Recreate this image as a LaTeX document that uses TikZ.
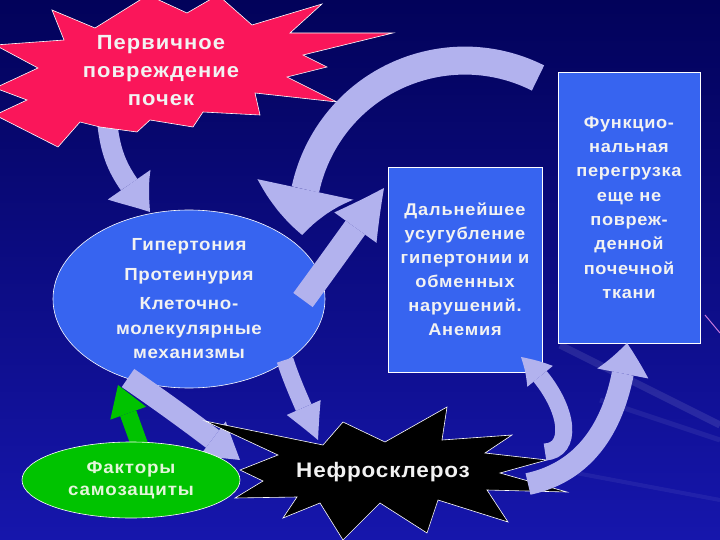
\documentclass[tikz,border=0pt]{standalone}
\usepackage{fontspec}
\setmainfont{Liberation Sans}
\usetikzlibrary{shapes.geometric,arrows.meta,bending}
\definecolor{bgtop}{RGB}{2,2,90}
\definecolor{bgbot}{RGB}{22,22,172}
\definecolor{starred}{RGB}{250,22,90}
\definecolor{boxblue}{RGB}{55,100,240}
\definecolor{arrowc}{RGB}{178,178,238}
\definecolor{greenc}{RGB}{0,195,0}
\definecolor{txt}{RGB}{242,242,242}
\definecolor{gtxt}{RGB}{228,245,218}
\definecolor{pinkline}{RGB}{200,120,220}
\newcommand{\txtfont}[3]{\fontsize{#1}{#2}\selectfont\bfseries\addfontfeature{FakeStretch=1.07,LetterSpace=#3}}
\begin{document}
\begin{tikzpicture}[x=1pt,y=-1pt,
  every node/.style={text=txt, align=center, inner sep=0pt},
  barr/.style n args={3}{draw=arrowc, line width=#1, -{Triangle[width=#2,length=#3,line width=0pt,bend]}},
  garr/.style n args={3}{draw=greenc, line width=#1, -{Triangle[width=#2,length=#3,line width=0pt,bend]}},
  boxnode/.style={draw=white, line width=0.6pt, fill=boxblue},
  outline/.style={draw=white, line width=0.6pt}]
\useasboundingbox (0,0) rectangle (720,540);
\clip (0,0) rectangle (720,540);
\fill[top color=bgtop, bottom color=bgbot] (0,0) rectangle (720,540);
% light streaks
\draw[white, opacity=0.10, line width=7pt] (560,345) -- (720,425);
\draw[white, opacity=0.07, line width=5pt] (600,400) -- (720,440);
\draw[white, opacity=0.06, line width=4pt] (560,470) -- (720,500);
\draw[pinkline, line width=1pt] (705,315) -- (720,333);

% arrow 1: star -> mechanisms
\coordinate (a1s) at (107,120);
\coordinate (a1e) at (150,212);
\draw[barr={20pt}{52pt}{38pt}] (a1s) .. controls (111,165) and (125,180) .. (a1e);

% red star
\draw[outline, fill=starred] (52,10) -- (64,40) -- (-5,45) -- (38,68) -- (-5,88) -- (27,100) -- (-5,115)
  -- (58,147) -- (80,122) -- (100,127) -- (137,132) -- (150,120) -- (193,127) -- (203,112)
  -- (260,115) -- (255,93) -- (337,102) -- (287,77) -- (327,67) -- (303,55) -- (393,33)
  -- (290,33) -- (322,4) -- (252,25) -- (218,-5) -- (187,13) -- (148,-5) -- (95,28) -- cycle;
\node[font=\txtfont{20.5}{28}{5}] (prim) at (161,71) {Первичное\\повреждение\\почек};

% big arc arrow: overload -> mechanisms
\coordinate (a2s) at (538,78);
\draw[barr={28pt}{98pt}{46pt}] (a2s) arc[start angle=-63.3, end angle=-184, radius=163];

% boxes
\node[boxnode, minimum width=142pt, minimum height=271pt, font=\txtfont{17}{24.3}{4}] (over) at (629,207.5)
  {Функцио-\\нальная\\перегрузка\\еще не\\повреж-\\денной\\почечной\\ткани};
\node[boxnode, minimum width=154pt, minimum height=205pt, font=\txtfont{17}{24}{5}] (further) at (465,269.5)
  {Дальнейшее\\усугубление\\гипертонии и\\обменных\\нарушений.\\Анемия};
\node[ellipse, boxnode, minimum width=272pt, minimum height=178pt, font=\txtfont{17.5}{24.5}{4}] (mech) at (189,299)
  {Гипертония\\[5pt]Протеинурия\\[5pt]Клеточно-\\молекулярные\\механизмы};

% arrows from mechanisms
\coordinate (a3s) at (303,300);
\coordinate (a3e) at (384,188);
\draw[barr={24pt}{52pt}{52pt}] (a3s) .. controls (325,270) and (350,235) .. (a3e);
\coordinate (a4s) at (285,360);
\coordinate (a4e) at (318,440);
\draw[barr={17pt}{37pt}{37pt}] (a4s) .. controls (293,385) and (305,410) .. (a4e);
\coordinate (a5s) at (128,378);
\coordinate (a5e) at (240,460);
\draw[barr={22pt}{44pt}{36pt}] (a5s) .. controls (160,400) and (195,425) .. (a5e);

% black star
\draw[outline, fill=black] (205,421) -- (323,445) -- (343,422) -- (385,442) -- (447,407) -- (442,440)
  -- (512,435) -- (485,453) -- (547,460) -- (500,473) -- (567,492) -- (487,490) -- (508,522)
  -- (438,500) -- (427,533) -- (380,503) -- (343,540) -- (320,503) -- (283,518) -- (297,497)
  -- (235,498) -- (263,481) -- (240,470) -- (278,455) -- cycle;
\node[font=\txtfont{21}{24}{4}] (neph) at (383,472) {Нефросклероз};

% green arrow and ellipse
\coordinate (a6s) at (140,446);
\coordinate (a6e) at (118,385);
\draw[garr={17pt}{38pt}{30pt}] (a6s) -- (a6e);
\node[ellipse, draw=white, line width=0.6pt, fill=greenc, minimum width=218pt, minimum height=76pt,
  text=gtxt, font=\txtfont{17.5}{22}{5}] (self) at (131,480) {Факторы\\самозащиты};

% arrows from nephrosclerosis
\coordinate (a7s) at (545,452);
\coordinate (a7e) at (521,357);
\draw[barr={17pt}{33pt}{28pt}] (a7s) .. controls (578,450) and (566,395) .. (a7e);
\coordinate (a8s) at (528,484);
\coordinate (a8e) at (627,343);
\draw[barr={22pt}{52pt}{32pt}] (a8s) .. controls (585,472) and (620,425) .. (a8e);
\end{tikzpicture}
\end{document}
